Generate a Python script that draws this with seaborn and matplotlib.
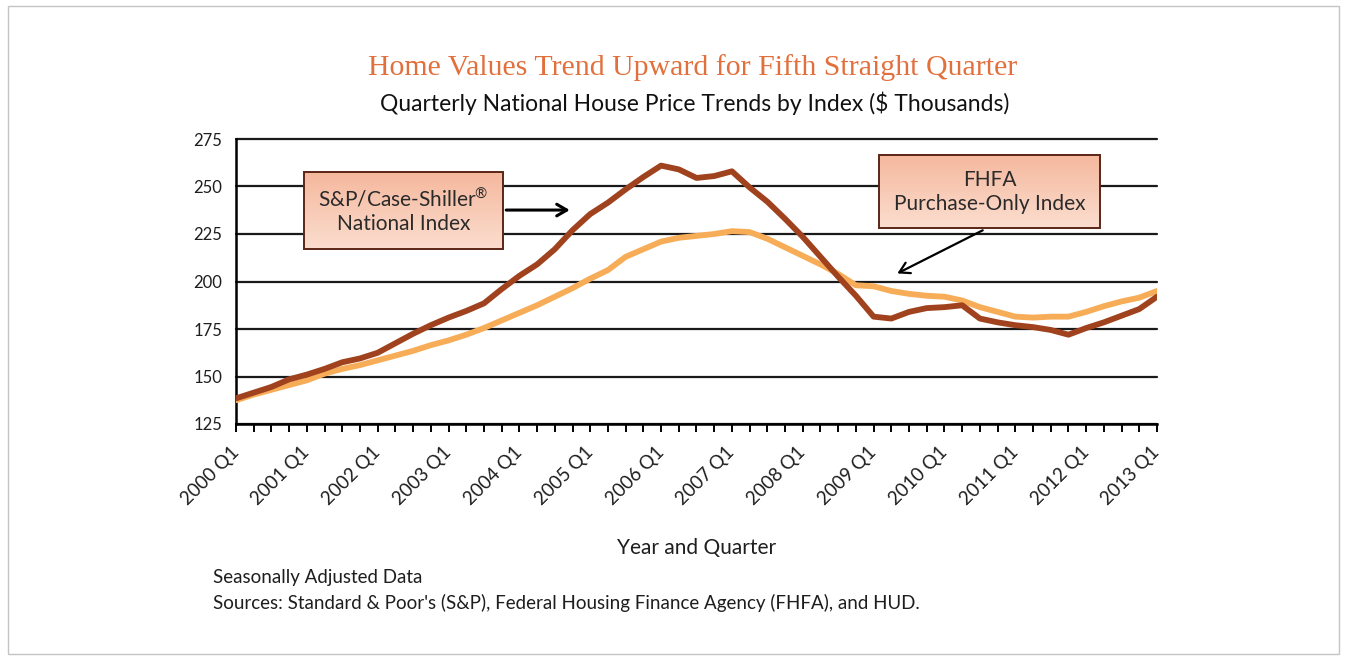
import numpy as np
import pandas as pd
import matplotlib
matplotlib.use("Agg")
import matplotlib.pyplot as plt
from matplotlib.patches import Rectangle
from matplotlib.colors import LinearSegmentedColormap
import seaborn as sns

# ---------------- data ----------------
years = list(range(2000, 2014))
quarter_labels = [f"{y} Q1" for y in years]

case_shiller = [138.5, 141.5, 144.5, 148.5, 151, 154, 157.5, 159.5, 162.5, 167.5,
                172.5, 177, 181, 184.5, 188.5, 196, 203, 209, 217, 227,
                235.5, 241.5, 248.5, 255, 261, 259, 254.5, 255.5, 258, 249.5,
                242, 233, 223.5, 213, 202.5, 192.5, 181.5, 180.5, 184, 186,
                186.5, 187.5, 180.5, 178.5, 177, 176, 174.5, 172, 175.5, 178.5,
                182, 185.5, 192]

fhfa = [137.5, 140.5, 143, 145.5, 148, 151.5, 154, 156, 158.5, 161,
        163.5, 166.5, 169, 172, 175.5, 179.5, 183.5, 187.5, 192, 196.5,
        201.5, 206, 213, 217, 221, 223, 224, 225, 226.5, 226,
        222.5, 218, 213.5, 209, 204, 198, 197.5, 195, 193.5, 192.5,
        192, 190, 186.5, 184, 181.5, 181, 181.5, 181.5, 184, 187,
        189.5, 191.5, 195]

series_names = ["FHFA Purchase-Only Index", "S&P/Case-Shiller National Index"]
y_ticks = [125, 150, 175, 200, 225, 250, 275]

n = len(case_shiller)
q = np.arange(n)
df = pd.DataFrame({
    "q": np.concatenate([q, q]),
    "value": fhfa + case_shiller,
    "series": [series_names[0]] * n + [series_names[1]] * n,
})

# ---------------- style ----------------
sns.set_theme(style="white")
plt.rcParams["font.family"] = ["Lato", "DejaVu Sans"]

DARK = "#A0421E"
LIGHT = "#F7AD58"
TEXT = "#1e1e1e"

fig = plt.figure(figsize=(13.47, 6.58), dpi=100)
ax = fig.add_axes([236 / 1347, 1 - 424 / 658, (1157 - 236) / 1347, (424 - 139) / 658])

sns.lineplot(data=df, x="q", y="value", hue="series", hue_order=series_names,
             palette={series_names[0]: LIGHT, series_names[1]: DARK},
             linewidth=4.2, legend=False, ax=ax, zorder=3)

ax.set_xlim(0, n - 1)
ax.set_ylim(y_ticks[0], y_ticks[-1])
ax.set_yticks(y_ticks)
ax.set_yticklabels([str(v) for v in y_ticks], fontsize=12, color=TEXT)

ax.set_xticks(np.arange(0, n, 4))
ax.set_xticks(np.arange(0, n, 1), minor=True)
ax.set_xticklabels(quarter_labels, rotation=45, ha="right", va="center",
                   rotation_mode="anchor", fontsize=13.5, color=TEXT)

ax.tick_params(axis="x", which="both", direction="out", length=6, width=1.4,
               color="black", bottom=True, pad=12)
ax.tick_params(axis="y", length=0, pad=10)

ax.grid(axis="y", color="#1a1a1a", linewidth=1.6)
ax.grid(axis="x", visible=False)
ax.set_axisbelow(True)
for gl in ax.yaxis.get_gridlines():
    gl.set_clip_on(False)

for s in ["top", "right"]:
    ax.spines[s].set_visible(False)
for s in ["left", "bottom"]:
    ax.spines[s].set_color("black")
    ax.spines[s].set_linewidth(1.8)

ax.set_xlabel("Year and Quarter", fontsize=15, color=TEXT, labelpad=22)
ax.set_ylabel("")

# ---------------- annotations ----------------
box_style = dict(boxstyle="square,pad=0.7", facecolor="none",
                 edgecolor="#5a2618", linewidth=1.4)

t1 = ax.text(9.45, 237.3, "S&P/Case-Shiller$^{\\mathregular{®}}$\nNational Index",
             ha="center", va="center", fontsize=15, color="#2a2a2a",
             bbox=box_style, linespacing=1.25, zorder=6)
ax.annotate("", xy=(19.0, 237.6), xytext=(15.1, 237.6),
            arrowprops=dict(arrowstyle="->,head_length=0.6,head_width=0.35",
                            color="black", lw=2.2), zorder=6)

t2 = ax.text(42.55, 247.3, "FHFA\nPurchase-Only Index", ha="center", va="center",
             fontsize=15, color="#2a2a2a", bbox=box_style, linespacing=1.25, zorder=6)
ax.annotate("", xy=(37.2, 203.6), xytext=(42.3, 227.6),
            arrowprops=dict(arrowstyle="->,head_length=0.6,head_width=0.35",
                            color="black", lw=1.6), zorder=6)

# gradient fill behind the annotation boxes
fig.canvas.draw()
grad_cmap = LinearSegmentedColormap.from_list("boxgrad", ["#FBDDCF", "#F5B89D"])
inv = ax.transData.inverted()
for t in (t1, t2):
    ext = t.get_bbox_patch().get_window_extent()
    (x0, y0), (x1, y1) = inv.transform([[ext.x0, ext.y0], [ext.x1, ext.y1]])
    grad = np.linspace(0, 1, 64).reshape(-1, 1)
    ax.imshow(grad, extent=[x0, x1, y0, y1], origin="lower", aspect="auto",
              cmap=grad_cmap, zorder=5, interpolation="bilinear")
ax.set_xlim(0, n - 1)
ax.set_ylim(y_ticks[0], y_ticks[-1])

# ---------------- titles & footer ----------------
fig.text(693 / 1347, 1 - 68 / 658, "Home Values Trend Upward for Fifth Straight Quarter",
         ha="center", va="center", fontsize=21.5, color="#E2703C",
         family=["Liberation Serif", "DejaVu Serif"])
fig.text(695 / 1347, 1 - 103 / 658,
         "Quarterly National House Price Trends by Index ($ Thousands)",
         ha="center", va="center", fontsize=16.5, color="#111111")

fig.text(213 / 1347, 1 - 577 / 658, "Seasonally Adjusted Data",
         ha="left", va="center", fontsize=13.5, color=TEXT)
fig.text(213 / 1347, 1 - 603 / 658,
         "Sources: Standard & Poor's (S&P), Federal Housing Finance Agency (FHFA), and HUD.",
         ha="left", va="center", fontsize=13.5, color=TEXT)

fig.add_artist(Rectangle((8 / 1347, 4 / 658), 1 - 16 / 1347, 1 - 10 / 658,
                         transform=fig.transFigure, fill=False,
                         edgecolor="#c4c4c4", linewidth=1.0))

fig.savefig("out.png", dpi=100)
